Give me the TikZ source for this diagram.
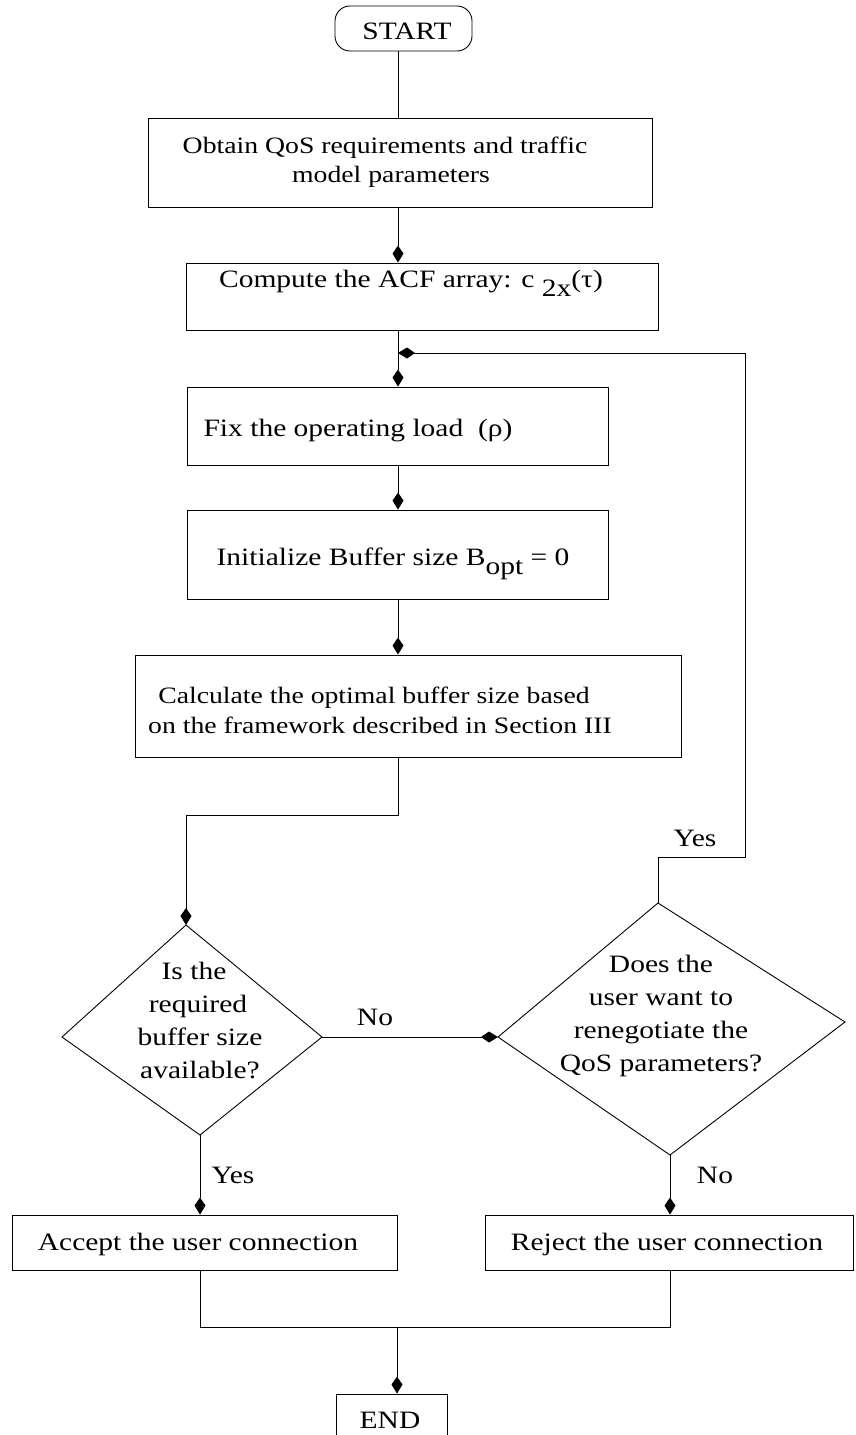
\documentclass[tikz,border=0pt]{standalone}
\usepackage{fontspec}
\setmainfont{Liberation Serif}[FakeStretch=1.18]
\usetikzlibrary{arrows.meta}
\begin{document}
\begin{tikzpicture}[x=1pt,y=-1pt, line width=0.9pt,
  box/.style={draw, rectangle, inner sep=0pt},
  txt/.style={inner sep=0pt, anchor=base, font=\fontsize{25}{33}\selectfont},
  stxt/.style={inner sep=0pt, anchor=base, font=\fontsize{23.5}{30}\selectfont},
  arr/.style={-{Kite[length=17pt,width=11pt,inset=8pt]}}]
\useasboundingbox (0,0) rectangle (855,1435);
% column and junctions
\coordinate (col) at (398,0);
\coordinate (j1) at (398,353);
\coordinate (k1) at (398,815);
\coordinate (k2) at (186,815);
\coordinate (l1) at (658,857);
\coordinate (l2) at (745,857);
\coordinate (l3) at (745,353);
\coordinate (m1) at (200,1327);
\coordinate (m2) at (670,1327);
\coordinate (m3) at (397,1327);
% boxes
\node[box, rounded corners=15pt, minimum width=137pt, minimum height=45pt] (start) at (403.5,28.5) {};
\node[txt] (tstart) at (407,39) {START};
\node[box, minimum width=504pt, minimum height=89pt] (b1) at (400,162.5) {};
\node[stxt] (t1a) at (385,153) {Obtain QoS requirements and traffic};
\node[stxt] (t1b) at (391,182) {model parameters};
\node[box, minimum width=472pt, minimum height=67pt] (b2) at (422,296.5) {};
\node[txt] (t2) at (411,287) {Compute the ACF array: c \raisebox{-9pt}{2x}(τ)};
\node[box, minimum width=421pt, minimum height=78pt] (b3) at (397.5,426) {};
\node[txt] (t3) at (358,436) {Fix the operating load\ \ (ρ)};
\node[box, minimum width=421pt, minimum height=89pt] (b4) at (397.5,554.5) {};
\node[txt] (t4) at (393,565) {Initialize Buffer size B\raisebox{-9pt}{opt} = 0};
\node[box, minimum width=546pt, minimum height=102pt] (b5) at (408,706) {};
\node[stxt] (t5a) at (374,703) {Calculate the optimal buffer size based};
\node[stxt] (t5b) at (380,733) {on the framework described in Section III};
\node[box, minimum width=385pt, minimum height=55pt] (acc) at (204.5,1242.5) {};
\node[txt] (tacc) at (198,1250) {Accept the user connection};
\node[box, minimum width=368pt, minimum height=55pt] (rej) at (669,1242.5) {};
\node[txt] (trej) at (667,1250) {Reject the user connection};
\node[box, minimum width=111pt, minimum height=60pt] (end) at (391.5,1424) {};
\node[txt] (tend) at (390,1428) {END};
% diamonds
\coordinate (d1t) at (186,925);
\coordinate (d1l) at (62,1037);
\coordinate (d1r) at (322,1037);
\coordinate (d1b) at (200,1135);
\draw (d1t) -- (d1r) -- (d1b) -- (d1l) -- cycle;
\node[txt] (q1a) at (194,979) {Is the};
\node[txt] (q1b) at (198,1012) {required};
\node[txt] (q1c) at (200,1045) {buffer size};
\node[txt] (q1d) at (200,1078) {available?};
\coordinate (d2t) at (658,903);
\coordinate (d2l) at (498,1037);
\coordinate (d2r) at (845,1022);
\coordinate (d2b) at (670,1155);
\draw (d2t) -- (d2r) -- (d2b) -- (d2l) -- cycle;
\node[txt] (q2a) at (661,972) {Does the};
\node[txt] (q2b) at (661,1005) {user want to};
\node[txt] (q2c) at (661,1038) {renegotiate the};
\node[txt] (q2d) at (661,1071) {QoS parameters?};
% connectors
\draw (col |- start.south) -- (col |- b1.north);
\draw[arr] (col |- b1.south) -- (col |- b2.north);
\draw (col |- b2.south) -- (j1);
\draw[arr] (j1) -- (col |- b3.north);
\draw[arr] (col |- b3.south) -- (col |- b4.north);
\draw[arr] (col |- b4.south) -- (col |- b5.north);
\draw[arr] (col |- b5.south) -- (k1) -- (k2) -- (d1t);
\draw[arr] (d1r) -- (d2l);
\draw[arr] (d2t) -- (l1) -- (l2) -- (l3) -- (j1);
\draw[arr] (d1b) -- (d1b |- acc.north);
\draw[arr] (d2b) -- (d2b |- rej.north);
\draw (d1b |- acc.south) -- (m1) -- (m2) -- (d2b |- rej.south);
\draw[arr] (m3) -- (m3 |- end.north);
% labels
\node[txt] (yes1) at (695,846) {Yes};
\node[txt] (no1) at (375,1025) {No};
\node[txt] (yes2) at (233,1183) {Yes};
\node[txt] (no2) at (715,1183) {No};
\end{tikzpicture}
\end{document}
